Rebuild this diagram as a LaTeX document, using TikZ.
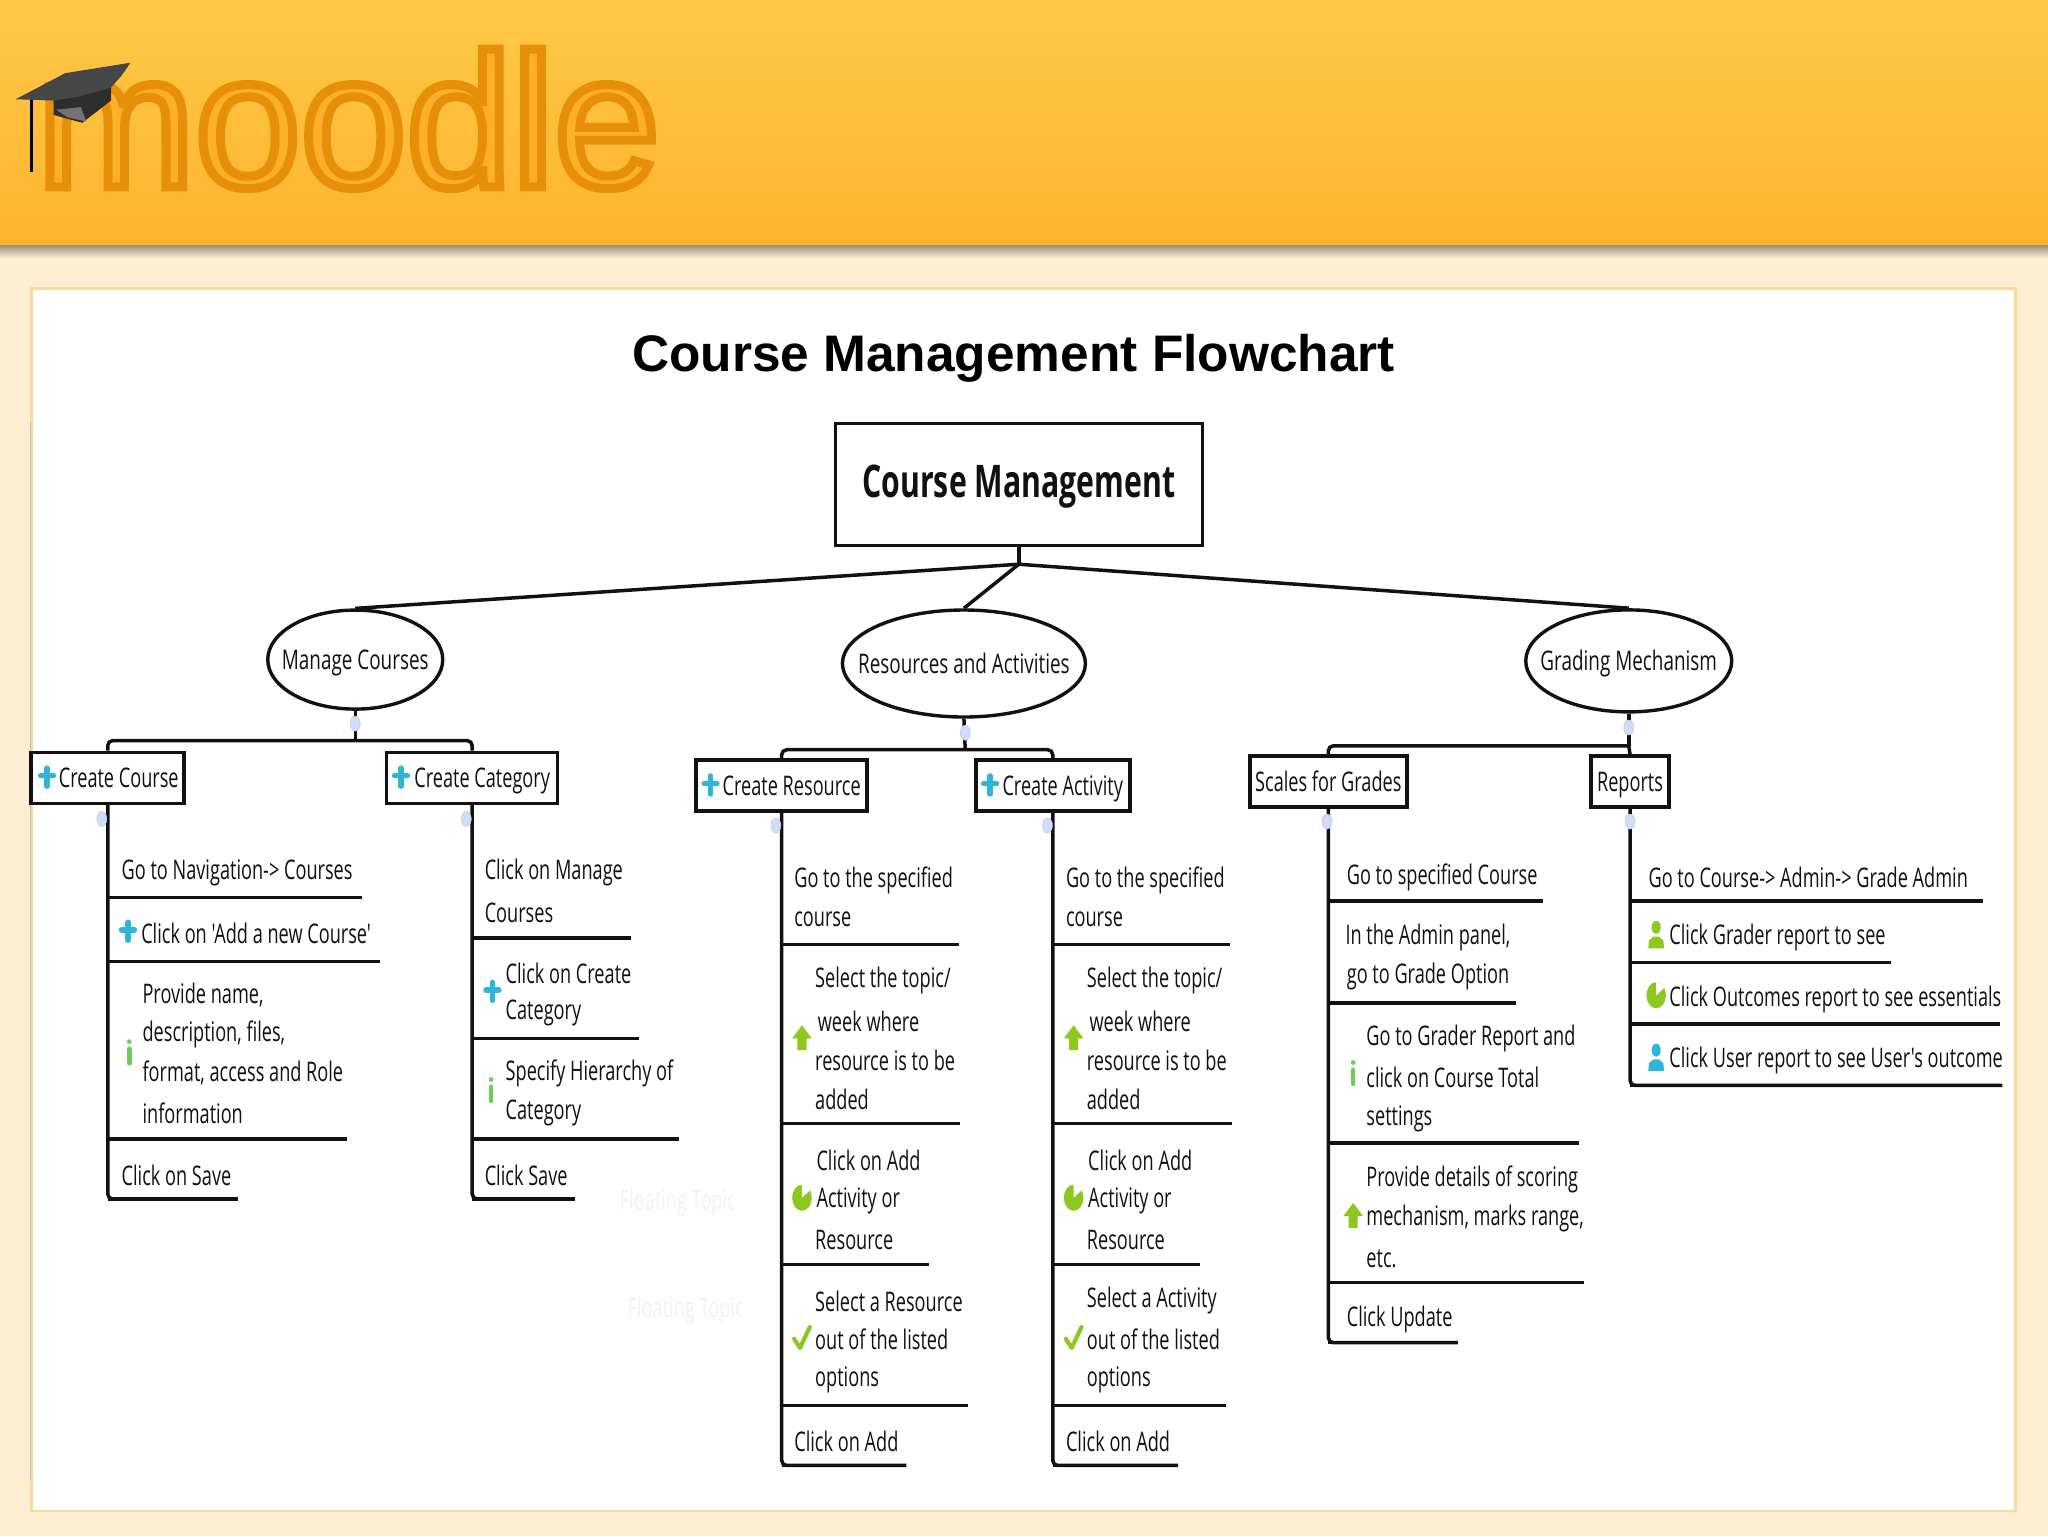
\documentclass[tikz,border=0pt]{standalone}
\usepackage{fontspec}
\usetikzlibrary{shapes.geometric}
\setmainfont{Open Sans}
\newfontfamily\condf[FakeStretch=0.672]{Open Sans}
\newfontfamily\ovalf[FakeStretch=0.7]{Open Sans}
\newfontfamily\titlef{Liberation Sans}
\newfontfamily\logof{Liberation Sans}
\definecolor{cream}{HTML}{FFEFD2}
\definecolor{panelline}{HTML}{FDD99A}
\definecolor{headtop}{HTML}{FFC946}
\definecolor{headbot}{HTML}{FDB42F}
\definecolor{ink}{HTML}{111111}
\definecolor{iconblue}{HTML}{2FB5DC}
\definecolor{icongreen}{HTML}{8CC81E}
\definecolor{ibar}{HTML}{6CCB5A}
\definecolor{knob}{HTML}{CFDDF6}
\definecolor{logomain}{HTML}{FFB02A}
\tikzset{
  lbl/.style={anchor=west,inner sep=0pt,font=\condf\fontsize{27}{30}\selectfont,text=ink,text height=25pt,text depth=5.8pt},
  bx/.style={draw=ink,line width=3.6pt,fill=white,inner sep=0pt,font=\condf\fontsize{27}{30}\selectfont,text=ink,text height=25pt,text depth=5.8pt},
  oval/.style={ellipse,draw=ink,line width=3.4pt,fill=white,inner sep=0pt,font=\ovalf\fontsize{27}{30}\selectfont,text=ink,text height=25pt,text depth=5.8pt},
  branch/.style={draw=ink,line width=3.5pt,rounded corners=5pt},
  knobdot/.style={ellipse,fill=knob,draw=knob!70!blue!60,line width=.5pt,minimum width=10pt,minimum height=15pt,inner sep=0pt},
  logot/.style={anchor=base west,inner sep=0pt},
  plusicon/.pic={\draw[iconblue,line width=5.2pt,line cap=round] (0,-7)--(0,7) (-5,-1)--(5,-1);},
  ibaricon/.pic={\draw[ibar,line width=4.4pt,line cap=round] (0,-3)--(0,8); \fill[ibar] (0,-8.5) circle (1.8);},
  arrowicon/.pic={\fill[icongreen] (0,-10)--(7.5,0)--(3.5,0)--(3.5,9)--(-3.5,9)--(-3.5,0)--(-7.5,0)--cycle;},
  pieicon/.pic={\fill[icongreen] (0,0) ellipse (7.5 and 10); \fill[white] (0,0)--(0,-10) arc[start angle=-90,end angle=-35,x radius=7.5,y radius=10]--cycle;},
  checkicon/.pic={\draw[icongreen,line width=4.2pt,line cap=round,line join=round] (-6,0)--(-1.5,7)--(6,-9);},
  personicon/.pic={\fill[#1] (0,-6) ellipse (3.5 and 5); \fill[#1] (-6,10)--(-5.5,4)--(-2,1)--(2,1)--(5.5,4)--(6,10)--cycle;},
  personicon/.default=iconblue
}
\newcommand{\tx}[4]{\node[lbl] (#1) at (#2,#3) {#4};}
% rule from a box's spine to a named end point
\newcommand{\ru}[4]{\coordinate (#2) at (#3,#4); \draw[branch] (#1.south |- #2) -- (#2);}
\begin{document}
\begin{tikzpicture}[x=1.3061pt,y=-1.3061pt]
\useasboundingbox (0,0) rectangle (1568,1176);
% page
\fill[cream] (0,0) rectangle (1568,1176);
\shade[top color=headtop,bottom color=headbot] (0,0) rectangle (1568,188);
\shade[top color=black!38!cream,bottom color=cream] (0,188) rectangle (1568,198);
\draw[panelline,line width=2.4pt,fill=white] (24,221) rectangle (1543,1157);
\draw[black!25,line width=1pt] (23,323)--(23,1133);
% logo: one text, filled orange with a darker stroke
\node[logot,font=\logof\fontsize{190}{190}\selectfont,text=logomain] (logo) at (28,143) {\special{pdf:code q 2 Tr 9 w 0.91 0.56 0.04 RG}moodle\special{pdf:code Q}};
% cap
\draw[black,line width=2.6pt] (24,76)--(24,132);
\fill[black!82] (41,77)--(85,62)--(85,77)--(63,94)--(41,88)--cycle;
\fill[black!55] (43,84)--(62,82)--(66,93)--(52,90)--cycle;
\fill[black!72] (12,76)--(50,56)--(100,48)--(93,58)--(85,67)--(60,74)--(41,77)--cycle;
% title
\node[inner sep=0pt,font=\titlef\bfseries\fontsize{51.4}{56}\selectfont,text=black] (title) at (776,274) {Course Management Flowchart};
% floating topics
\node[inner sep=0pt,font=\condf\fontsize{27}{30}\selectfont,text=black!5] (ft1) at (519,921) {Floating Topic};
\node[inner sep=0pt,font=\condf\fontsize{27}{30}\selectfont,text=black!5] (ft2) at (525,1003) {Floating Topic};
% root
\node[draw=ink,line width=3.2pt,fill=white,minimum width=367pt,minimum height=122pt,inner sep=0pt,font=\condf\bfseries\fontsize{45}{48}\selectfont,text=ink,text height=36pt,text depth=10pt] (root) at (780,371) {Course Management};
\coordinate (hub) at (780,432);
\node[oval,minimum width=175pt,minimum height=99pt] (mc) at (272,505) {\makebox[0pt]{Manage Courses}};
\node[oval,minimum width=243pt,minimum height=107pt] (ra) at (738,508) {\makebox[0pt]{Resources and Activities}};
\node[oval,minimum width=206pt,minimum height=102pt] (gm) at (1247,506) {\makebox[0pt]{Grading Mechanism}};
\draw[branch,rounded corners=0pt] (root.south)--(hub);
\draw[branch,rounded corners=0pt] (hub)--(mc.north);
\draw[branch,rounded corners=0pt] (hub)--(ra.north);
\draw[branch,rounded corners=0pt] (hub)--(gm.north);
% level 2 boxes
\node[bx,minimum width=153pt,minimum height=51pt] (cc) at (82.5,595.5) {\hspace*{22pt}Create Course};
\node[bx,minimum width=171pt,minimum height=51pt] (cg) at (361.5,595.5) {\hspace*{20pt}Create Category};
\node[bx,minimum width=171pt,minimum height=51pt] (cr) at (598.5,601.5) {\hspace*{20pt}Create Resource};
\node[bx,minimum width=154pt,minimum height=51pt] (ca) at (806,601.5) {\hspace*{20pt}Create Activity};
\node[bx,minimum width=157pt,minimum height=51pt] (sg) at (1017,598.5) {Scales for Grades};
\node[bx,minimum width=78pt,minimum height=51pt] (rp) at (1248,598.5) {Reports};
% buses
\coordinate (busm) at (272,567);
\coordinate (busr) at (739,574);
\coordinate (busg) at (1247,571);
\draw[branch] (mc.south)--(busm);
\draw[branch] (cc.north) |- (busm);
\draw[branch] (cg.north) |- (busm);
\draw[branch] (ra.south)--(busr);
\draw[branch] (cr.north) |- (busr);
\draw[branch] (ca.north) |- (busr);
\draw[branch] (gm.south)--(busg);
\draw[branch] (sg.north) |- (busg);
\draw[branch] (rp.north) -- (busg);
\node[knobdot] (k1) at (272,554) {};
\node[knobdot] (k2) at (739,561) {};
\node[knobdot] (k3) at (1247,557) {};
% Create Course
\ru{cc}{a1}{277}{687}\ru{cc}{a2}{291}{736}\ru{cc}{a3}{266}{872}\ru{cc}{a4}{182}{918}
\draw[branch] (cc.south) |- (a4);
\node[knobdot] (k4) at (78,627) {};
\tx{t1}{93}{666}{Go to Navigation-> Courses}
\pic at (98,713) {plusicon};
\tx{t2}{108}{715}{Click on 'Add a new Course'}
\tx{t3}{109}{761}{Provide name,}
\tx{t4}{109}{790}{description, files,}
\tx{t5}{109}{821}{format, access and Role}
\tx{t6}{109}{853}{information}
\pic at (99,806) {ibaricon};
\tx{t7}{93}{900}{Click on Save}
\pic at (36,595) {plusicon};
% Create Category
\ru{cg}{b1}{483}{718}\ru{cg}{b2}{489}{795}\ru{cg}{b3}{520}{872}\ru{cg}{b4}{440}{918}
\draw[branch] (cg.south) |- (b4);
\node[knobdot] (k5) at (357,627) {};
\tx{u1}{371}{666}{Click on Manage}
\tx{u2}{371}{699}{Courses}
\pic at (377,759) {plusicon};
\tx{u3}{387}{746}{Click on Create}
\tx{u4}{387}{773}{Category}
\pic at (376,835) {ibaricon};
\tx{u5}{387}{820}{Specify Hierarchy of}
\tx{u6}{387}{850}{Category}
\tx{u7}{371}{900}{Click Save}
\pic at (307,595) {plusicon};
% Create Resource
\ru{cr}{c1}{734}{723}\ru{cr}{c2}{735}{860}\ru{cr}{c3}{711}{968}\ru{cr}{c4}{741}{1076}\ru{cr}{c5}{694}{1122}
\draw[branch] (cr.south) |- (c5);
\node[knobdot] (k6) at (594,632) {};
\tx{v1}{608}{672}{Go to the specified}
\tx{v2}{608}{702}{course}
\tx{v3}{624}{749}{Select the topic/}
\tx{v4}{626}{782}{week where}
\tx{v5}{624}{812}{resource is to be}
\tx{v6}{624}{842}{added}
\pic at (614,795) {arrowicon};
\tx{v7}{625}{889}{Click on Add}
\tx{v8}{625}{917}{Activity or}
\tx{v9}{624}{949}{Resource}
\pic at (614,917) {pieicon};
\tx{v10}{624}{997}{Select a Resource}
\tx{v11}{624}{1026}{out of the listed}
\tx{v12}{624}{1054}{options}
\pic at (614,1025) {checkicon};
\tx{v13}{608}{1104}{Click on Add}
\pic at (544,601) {plusicon};
% Create Activity
\ru{ca}{d1}{942}{723}\ru{ca}{d2}{943}{860}\ru{ca}{d3}{919}{968}\ru{ca}{d4}{939}{1076}\ru{ca}{d5}{902}{1122}
\draw[branch] (ca.south) |- (d5);
\node[knobdot] (k7) at (802,632) {};
\tx{w1}{816}{672}{Go to the specified}
\tx{w2}{816}{702}{course}
\tx{w3}{832}{749}{Select the topic/}
\tx{w4}{834}{782}{week where}
\tx{w5}{832}{812}{resource is to be}
\tx{w6}{832}{842}{added}
\pic at (822,795) {arrowicon};
\tx{w7}{833}{889}{Click on Add}
\tx{w8}{833}{917}{Activity or}
\tx{w9}{832}{949}{Resource}
\pic at (822,917) {pieicon};
\tx{w10}{832}{994}{Select a Activity}
\tx{w11}{832}{1026}{out of the listed}
\tx{w12}{832}{1054}{options}
\pic at (822,1025) {checkicon};
\tx{w13}{816}{1104}{Click on Add}
\pic at (758,601) {plusicon};
% Scales for Grades
\ru{sg}{e1}{1181}{690}\ru{sg}{e2}{1161}{768}\ru{sg}{e3}{1209}{875}\ru{sg}{e4}{1213}{982}\ru{sg}{e5}{1116}{1028}
\draw[branch] (sg.south) |- (e5);
\node[knobdot] (k8) at (1016,629) {};
\tx{x1}{1031}{670}{Go to specified Course}
\tx{x2}{1030}{716}{In the Admin panel,}
\tx{x3}{1031}{746}{go to Grade Option}
\tx{x4}{1046}{793}{Go to Grader Report and}
\tx{x5}{1046}{825}{click on Course Total}
\tx{x6}{1046}{854}{settings}
\pic at (1036,822) {ibaricon};
\tx{x7}{1046}{901}{Provide details of scoring}
\tx{x8}{1046}{931}{mechanism, marks range,}
\tx{x9}{1046}{963}{etc.}
\pic at (1036,931) {arrowicon};
\tx{x10}{1031}{1008}{Click Update}
% Reports
\ru{rp}{f1}{1518}{690}\ru{rp}{f2}{1448}{737}\ru{rp}{f3}{1531}{784}\ru{rp}{f4}{1533}{831}
\draw[branch] (rp.south) |- (f4);
\node[knobdot] (k9) at (1248,629) {};
\tx{y1}{1262}{672}{Go to Course-> Admin-> Grade Admin}
\pic at (1268,716) {personicon={icongreen}};
\tx{y2}{1278}{716}{Click Grader report to see}
\pic at (1268,762) {pieicon};
\tx{y3}{1278}{763}{Click Outcomes report to see essentials}
\pic at (1268,810) {personicon={iconblue}};
\tx{y4}{1278}{810}{Click User report to see User's outcome}
\end{tikzpicture}
\end{document}
